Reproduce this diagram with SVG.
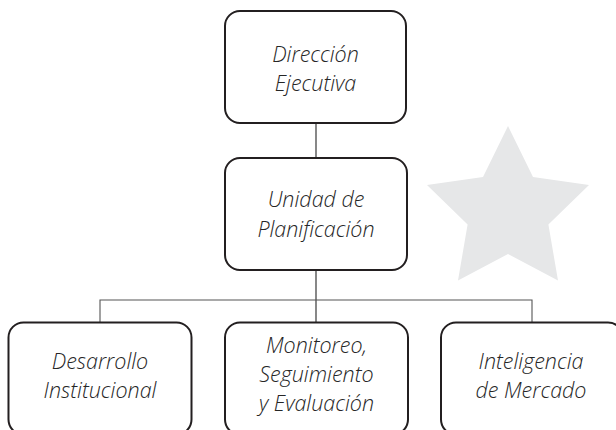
<svg xmlns="http://www.w3.org/2000/svg" width="616" height="430" viewBox="0 0 616 430">
<style>
.box{fill:#fff;stroke:#231f20;stroke-width:2}
.lbl{font-family:"Open Sans","Liberation Sans",sans-serif;font-style:italic;font-weight:300;font-size:21.5px;fill:#262626;text-anchor:middle}
.conn{fill:none;stroke:#555;stroke-width:1.4}
</style>
<rect width="616" height="430" fill="#fff"/>
<polygon id="star" fill="#e6e7e8" points="508,126 533,177 589,185 548.4,224.5 558,280.5 508,254 458,280.5 467.6,224.5 427,185 483,177"/>
<g id="connectors">
<line class="conn" x1="316" y1="123" x2="316" y2="158"/>
<line class="conn" x1="316" y1="270" x2="316" y2="322"/>
<polyline class="conn" points="100,322 100,300 532,300 532,322" style="stroke-width:1.1"/>
</g>
<g id="n-direccion">
<rect class="box" x="225" y="11" width="181" height="112" rx="15"/>
<text class="lbl" x="315.5" y="62">Dirección</text>
<text class="lbl" x="315.5" y="91">Ejecutiva</text>
</g>
<g id="n-unidad">
<rect class="box" x="225" y="158" width="182" height="112" rx="15"/>
<text class="lbl" x="316" y="207">Unidad de</text>
<text class="lbl" x="316" y="237">Planificación</text>
</g>
<g id="n-desarrollo">
<rect class="box" x="8.5" y="322.5" width="183" height="112" rx="15"/>
<text class="lbl" x="100" y="369">Desarrollo</text>
<text class="lbl" x="100" y="398">Institucional</text>
</g>
<g id="n-monitoreo">
<rect class="box" x="225" y="322.5" width="183" height="112" rx="15"/>
<text class="lbl" x="316.5" y="353">Monitoreo,</text>
<text class="lbl" x="316.5" y="382">Seguimiento</text>
<text class="lbl" x="316.5" y="411">y Evaluación</text>
</g>
<g id="n-inteligencia">
<rect class="box" x="441" y="322.5" width="182" height="112" rx="15"/>
<text class="lbl" x="531" y="369">Inteligencia</text>
<text class="lbl" x="531" y="398">de Mercado</text>
</g>
</svg>
